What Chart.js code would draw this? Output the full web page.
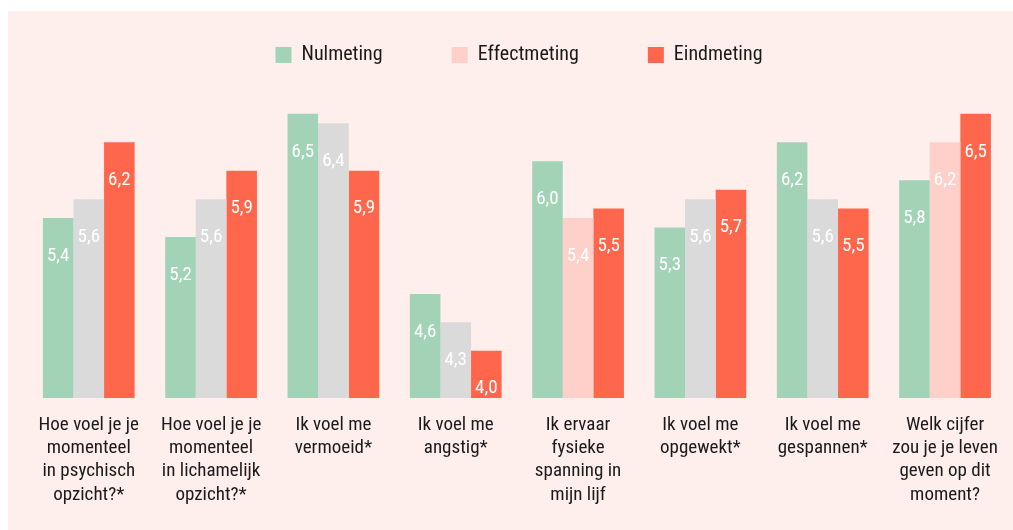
<!DOCTYPE html>
<html><head><meta charset="utf-8">
<script src="https://cdn.jsdelivr.net/npm/chart.js@4.4.1/dist/chart.umd.min.js"></script>
<style>
html,body{margin:0;padding:0;background:#ffffff;width:1013px;height:530px;overflow:hidden;}
#panel{position:absolute;left:8px;top:11px;right:0;bottom:0;background:#feeeec;}
#wrap{position:absolute;left:0;top:-24px;width:1013px;height:554px;}
</style></head><body>
<div id="panel"></div>
<div id="wrap"><canvas id="c"></canvas></div>
<script>
const categories = [
  ['Hoe voel je je', 'momenteel', 'in psychisch', 'opzicht?*'],
  ['Hoe voel je je', 'momenteel', 'in lichamelijk', 'opzicht?*'],
  ['Ik voel me', 'vermoeid*'],
  ['Ik voel me', 'angstig*'],
  ['Ik ervaar', 'fysieke', 'spanning in', 'mijn lijf'],
  ['Ik voel me', 'opgewekt*'],
  ['Ik voel me', 'gespannen*'],
  ['Welk cijfer', 'zou je je leven', 'geven op dit', 'moment?']
];
const seriesNames = ['Nulmeting', 'Effectmeting', 'Eindmeting'];
const nulmeting = [5.4, 5.2, 6.5, 4.6, 6.0, 5.3, 6.2, 5.8];
const effectmeting = [5.6, 5.6, 6.4, 4.3, 5.4, 5.6, 5.6, 6.2];
const eindmeting = [6.2, 5.9, 5.9, 4.0, 5.5, 5.7, 5.5, 6.5];

const GREEN = '#a3d3b7', GRAY = '#d9dad9', PINK = '#ffd0ca', RED = '#ff674d';
const effectColors = [GRAY, GRAY, GRAY, GRAY, PINK, GRAY, GRAY, PINK];
const legendColors = [GREEN, PINK, RED];
const FONT = "'Roboto Condensed', 'Liberation Sans Narrow', 'Arial Narrow', 'DejaVu Sans Condensed', sans-serif";

const valueLabels = {
  id: 'valueLabels',
  afterDatasetsDraw(chart) {
    const ctx = chart.ctx;
    ctx.save();
    ctx.font = '19px ' + FONT;
    ctx.fillStyle = '#ffffff';
    ctx.textAlign = 'center';
    ctx.textBaseline = 'middle';
    chart.data.datasets.forEach((ds, di) => {
      const meta = chart.getDatasetMeta(di);
      meta.data.forEach((bar, i) => {
        const y = Math.min(bar.y + 38, bar.base - 15);
        ctx.fillText(ds.data[i].toFixed(1).replace('.', ','), bar.x, y);
      });
    });
    ctx.restore();
  }
};

new Chart(document.getElementById('c'), {
  type: 'bar',
  data: {
    labels: categories,
    datasets: [
      { label: seriesNames[0], data: nulmeting, backgroundColor: GREEN },
      { label: seriesNames[1], data: effectmeting, backgroundColor: effectColors },
      { label: seriesNames[2], data: eindmeting, backgroundColor: RED }
    ]
  },
  options: {
    responsive: true,
    maintainAspectRatio: false,
    animation: false,
    datasets: { bar: { categoryPercentage: 0.75, barPercentage: 1.0, borderWidth: 0 } },
    layout: { padding: { left: 27.6, right: 2.6, top: 0, bottom: 8.4 } },
    plugins: {
      tooltip: { enabled: false },
      legend: {
        position: 'top',
        align: 'center',
        labels: {
          boxWidth: 16,
          boxHeight: 16,
          padding: 69,
          color: '#1a1a1a',
          font: { family: FONT, size: 20 },
          generateLabels(chart) {
            const items = Chart.defaults.plugins.legend.labels.generateLabels(chart);
            items.forEach((it, i) => { it.fillStyle = legendColors[i]; it.strokeStyle = legendColors[i]; it.lineWidth = 0; });
            return items;
          }
        }
      }
    },
    scales: {
      x: {
        grid: { display: false, drawTicks: false },
        border: { display: false },
        ticks: {
          color: '#1a1a1a',
          padding: 15,
          autoSkip: false,
          maxRotation: 0,
          minRotation: 0,
          font: { family: FONT, size: 19, lineHeight: 1.23 }
        }
      },
      y: {
        display: false,
        min: 3.5,
        max: 6.91,
        grid: { display: false }
      }
    }
  },
  plugins: [valueLabels]
});
</script>
</body></html>
